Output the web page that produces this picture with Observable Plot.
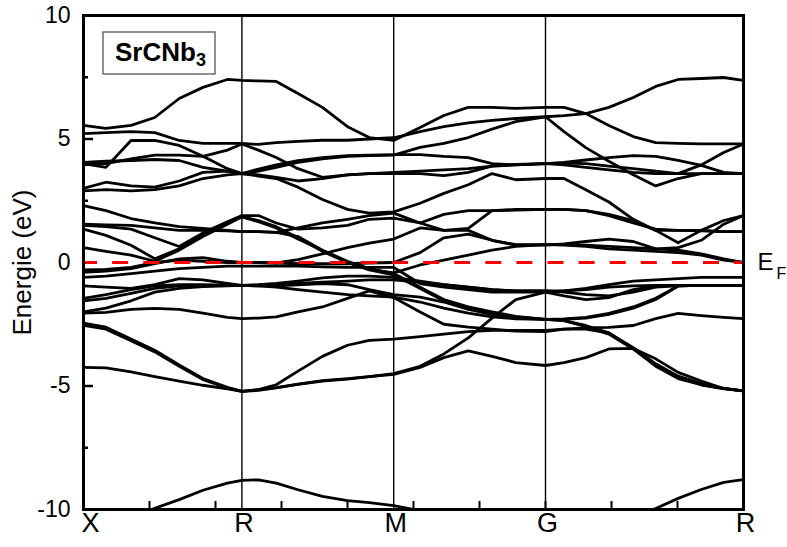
<!DOCTYPE html>
<html>
<head>
<meta charset="utf-8">
<script src="https://cdn.jsdelivr.net/npm/d3@7"></script>
<script src="https://cdn.jsdelivr.net/npm/@observablehq/plot@0.6"></script>
<style>
  body { margin: 0; background: #fff; }
  svg { display: block; }
</style>
</head>
<body>
<div id="chart"></div>
<script>
// k-path sampling (axis units 0..10): X -> R -> M -> G -> R
const kPath = [0,0.34,0.72,1.08,1.45,1.81,2.18,2.4, 2.65,2.92,3.25,3.62,4.0,4.33,4.7, 5.1,5.46,5.83,6.19,6.55,7.0, 7.28,7.61,7.96,8.33,8.67,9.01,9.36,9.70,10];

// high-symmetry points
const symLabels = ["X","R","M","G","R"];
const symPos = [0, 2.4, 4.7, 7.0, 10];
const symInner = [2.4, 4.7, 7.0];

// axis ticks
const yTickVals = [-10,-5,0,5,10];
const yMajorInner = [-5, 5];
const yMinorInner = [-7.5, -2.5, 2.5, 7.5];
const xMinorTicks = [1,2,3,4,5,6,7,8,9];

// texts
const yLabel = "Energie (eV)";
const efMain = "E", efSub = "F";
const legendMain = "SrCNb", legendSub = "3";

// band energies (eV) along kPath
const b01 = [-10.9,-10.6,-10.3,-9.95,-9.6,-9.22,-8.93,-8.82, -8.8,-8.93,-9.2,-9.47,-9.64,-9.72,-9.84, -10.05,-10.3,-10.5,-10.6,-10.65,-10.7, -10.65,-10.5,-10.4,-10.2,-9.96,-9.55,-9.19,-8.9,-8.79];
const b02 = [-4.25,-4.27,-4.43,-4.62,-4.8,-4.97,-5.12,-5.22, -5.15,-5.07,-4.92,-4.78,-4.7,-4.62,-4.53, -4.25,-3.85,-3.58,-3.8,-4.05,-4.17, -4.05,-3.85,-3.5,-3.48,-3.9,-4.45,-4.8,-5.1,-5.2];
const b03 = [-2.45,-2.62,-3.1,-3.55,-4.15,-4.7,-5.05,-5.22, -5.15,-4.95,-4.4,-3.8,-3.35,-3.15,-3.1, -3.0,-2.9,-2.8,-2.75,-2.75,-2.75, -2.7,-2.7,-2.85,-3.5,-4.2,-4.7,-4.95,-5.12,-5.2];
const b04 = [-2.55,-2.7,-3.17,-3.62,-4.2,-4.74,-5.08,-5.22, -5.18,-5.08,-4.93,-4.8,-4.72,-4.62,-4.5, -4.2,-3.7,-3.05,-2.25,-1.5,-1.2, -1.35,-1.5,-1.42,-1.1,-0.95,-0.93,-0.93,-0.93,-0.93];
const b05 = [-2.05,-2.02,-1.9,-1.86,-1.9,-2.05,-2.22,-2.27, -2.25,-2.2,-2.0,-1.8,-1.45,-1.15,-1.42, -2.0,-2.5,-2.62,-2.7,-2.78,-2.8, -2.7,-2.65,-2.63,-2.55,-2.27,-2.06,-2.15,-2.22,-2.27];
const b06 = [1.35,1.1,0.7,0.15,0.55,1.1,1.6,1.85, 1.7,1.45,1.0,0.45,0.0,-0.3,-0.5, -1.05,-1.55,-1.85,-2.05,-2.2,-2.3, -2.3,-2.25,-2.1,-1.85,-1.5,-0.95,-0.93,-0.93,-0.93];
const b07 = [0.6,0.45,0.3,0.05,0.5,1.05,1.55,1.85, 1.65,1.4,0.95,0.5,0.05,-0.25,-0.45, -1.0,-1.5,-1.8,-2.0,-2.18,-2.3, -2.28,-2.22,-2.06,-1.8,-1.45,-0.95,-0.93,-0.93,-0.93];
const b08 = [-0.4,-0.35,-0.25,-0.05,0.15,0.2,0.05,0.0, 0.0,-0.02,0.12,0.35,0.6,0.78,0.95, 1.4,1.3,1.3,0.9,0.7,0.7, 0.75,0.85,0.95,0.85,0.55,0.5,0.35,0.15,0.0];
const b09 = [-0.6,-0.55,-0.45,-0.35,-0.25,-0.2,-0.15,-0.15, -0.15,-0.15,-0.15,-0.18,-0.2,-0.2,-0.2, -0.85,-1.0,-1.1,-1.2,-1.2,-1.2, -1.15,-1.05,-0.9,-0.75,-0.7,-0.65,-0.6,-0.6,-0.6];
const b10 = [-0.95,-1.0,-1.05,-0.9,-0.65,-0.7,-0.85,-0.93, -0.9,-0.85,-0.75,-0.62,-0.55,-0.55,-0.6, -0.75,-0.9,-1.0,-1.1,-1.15,-1.15, -1.2,-1.3,-1.35,-1.2,-1.0,-0.95,-0.93,-0.93,-0.93];
const b11 = [-1.45,-1.3,-1.1,-0.95,-0.9,-0.9,-0.92,-0.93, -0.95,-0.95,-0.9,-0.85,-0.9,-1.1,-1.3, -1.4,-1.6,-1.9,-2.1,-2.25,-2.3, -2.35,-2.6,-2.9,-3.5,-4.15,-4.65,-4.95,-5.1,-5.2];
const b12 = [-1.55,-1.45,-1.25,-1.05,-0.95,-0.95,-0.93,-0.93, -0.92,-0.9,-0.85,-0.8,-0.75,-0.7,-0.7, -0.8,-0.9,-1.0,-1.1,-1.15,-1.15, -1.15,-1.1,-1.0,-0.95,-0.93,-0.93,-0.93,-0.93,-0.93];
const b13 = [-2.0,-1.85,-1.55,-1.2,-1.05,-0.98,-0.95,-0.93, -0.95,-1.0,-1.1,-1.2,-1.3,-1.35,-1.4, -1.6,-1.85,-2.05,-2.2,-2.28,-2.3, -2.35,-2.55,-2.85,-3.45,-4.1,-4.6,-4.9,-5.1,-5.2];
const b14 = [-0.3,-0.28,-0.2,0.0,0.1,0.05,0.0,0.0, 0.0,-0.02,-0.05,-0.05,-0.05,-0.02,0.0, 0.4,1.0,1.15,0.9,0.72,0.72, 0.7,0.65,0.55,0.5,0.45,0.4,0.3,0.1,0.0];
const b15 = [2.3,2.1,1.78,1.6,1.45,1.38,1.3,1.25, 1.25,1.22,1.4,1.6,1.75,1.9,2.0, 1.6,1.95,2.1,2.1,2.12,2.15, 2.15,2.1,1.9,1.6,1.35,1.3,1.3,1.25,1.25];
const b16 = [1.55,1.52,1.5,1.4,1.3,1.3,1.28,1.25, 1.25,1.22,1.05,0.5,0.0,-0.28,-0.42, -0.1,0.1,0.3,0.5,0.65,0.72, 0.72,0.7,0.65,0.6,0.55,0.6,0.9,1.55,1.9];
const b17 = [1.5,1.45,1.35,1.0,0.65,1.2,1.65,1.9, 1.9,1.6,1.35,1.4,1.5,1.75,1.8, 1.6,1.3,1.38,2.1,2.15,2.15, 2.15,2.1,1.95,1.7,1.3,0.8,1.3,1.7,1.9];
const b18 = [5.55,5.43,5.55,5.87,6.64,7.09,7.41,7.37, 7.35,7.33,6.84,6.28,5.5,5.06,4.94, 5.47,5.95,6.28,6.28,6.24,6.28, 6.28,6.03,5.55,5.1,4.85,4.82,4.8,4.8,4.8];
const b19 = [5.22,5.26,5.3,5.26,4.94,4.82,4.82,4.82, 4.78,4.85,4.9,4.95,4.95,5.0,5.05, 5.3,5.5,5.65,5.75,5.83,5.9, 5.95,6.03,6.28,6.68,7.13,7.41,7.45,7.49,7.37];
const b20 = [4.0,3.85,4.94,4.94,4.74,4.3,3.8,3.6, 3.5,3.4,3.05,2.55,2.15,2.0,2.05, 2.4,2.8,3.15,3.6,3.35,3.4, 3.4,2.95,2.45,1.75,1.3,1.3,1.28,1.25,1.25];
const b21 = [3.95,4.0,4.2,4.35,4.35,4.3,4.55,4.8, 4.55,4.25,3.8,3.45,3.55,3.6,3.6, 3.6,3.52,3.65,3.9,3.97,4.0, 4.02,4.0,3.9,3.8,3.7,3.6,3.6,3.6,3.6];
const b22 = [4.05,4.1,4.13,4.17,4.13,3.85,3.7,3.6, 3.78,3.95,4.12,4.25,4.33,4.35,4.37, 4.37,4.3,4.25,4.0,3.95,4.0, 4.05,4.15,4.25,4.33,4.3,4.13,3.93,3.65,3.6];
const b23 = [3.0,3.25,3.1,3.05,3.3,3.65,3.7,3.6, 3.7,3.85,4.05,4.2,4.3,4.33,4.35, 4.66,4.82,5.06,5.4,5.7,5.9, 5.3,4.65,4.1,3.55,3.1,3.4,3.6,3.6,3.6];
const b24 = [2.9,2.95,2.9,2.95,3.1,3.4,3.55,3.6, 3.55,3.45,3.3,3.4,3.55,3.6,3.65, 3.7,3.75,3.8,3.9,3.95,4.0, 3.95,3.85,3.75,3.65,3.6,3.6,3.95,4.45,4.8];

const bandList = [b01,b02,b03,b04,b05,b06,b07,b08,b09,b10,b11,b12,b13,b14,b15,b16,b17,b18,b19,b20,b21,b22,b23,b24];
const rows = bandList.flatMap((band, b) => band.map((e, i) => ({k: kPath[i], e, band: b})));

const W = 787, H = 547;
const mL = 83, mR = 44, mT = 15, mB = 38;
const plotW = W - mL - mR, plotH = H - mT - mB;
const font = "'Liberation Sans', Arial, Helvetica, sans-serif";

const chart = Plot.plot({
  width: W,
  height: H,
  marginLeft: mL,
  marginRight: mR,
  marginTop: mT,
  marginBottom: mB,
  style: {fontFamily: font, background: "#fff", color: "#000"},
  x: {domain: [0, 10], axis: null},
  y: {domain: [-10, 10], axis: null},
  marks: [
    // high-symmetry vertical lines
    Plot.ruleX(symInner, {stroke: "#000", strokeWidth: 1.4}),
    // inward ticks
    Plot.ruleY(yMajorInner, {stroke: "#000", strokeWidth: 2.5, insetRight: plotW - 10}),
    Plot.ruleY(yMinorInner, {stroke: "#000", strokeWidth: 2.5, insetRight: plotW - 5}),
    Plot.ruleX(xMinorTicks, {stroke: "#000", strokeWidth: 2, insetTop: plotH - 8}),
    // bands
    Plot.line(rows, {x: "k", y: "e", z: "band", stroke: "#000", strokeWidth: 2.8, strokeLinejoin: "round", clip: true}),
    // Fermi level
    Plot.ruleY([0], {stroke: "#ff0000", strokeWidth: 3, strokeDasharray: "16,15.1", strokeDashoffset: 2}),
    // frame
    Plot.frame({stroke: "#000", strokeWidth: 3}),
    // y tick labels
    Plot.text(yTickVals, {y: d => d, frameAnchor: "left", dx: -13, textAnchor: "end", fontSize: 23, text: d => String(d)}),
    // x labels (high-symmetry points)
    Plot.text(symPos.slice(0, 1), {x: d => d, frameAnchor: "bottom", dy: 22.5, dx: 7, textAnchor: "middle", fontSize: 27, text: (d, i) => symLabels[i]}),
    Plot.text(symPos.slice(1), {x: d => d, frameAnchor: "bottom", dy: 22.5, dx: 2, textAnchor: "middle", fontSize: 27, text: (d, i) => symLabels[i + 1]}),
    // y axis label
    Plot.text([yLabel], {frameAnchor: "left", dx: -61, rotate: -90, textAnchor: "middle", fontSize: 26, text: d => d}),
    // E_F label
    Plot.text([0], {y: d => d, frameAnchor: "right", dx: 14, textAnchor: "start", fontSize: 24, text: () => efMain}),
    Plot.text([0], {y: d => d, frameAnchor: "right", dx: 33, dy: 11, textAnchor: "start", fontSize: 16, text: () => efSub})
  ]
});

// legend box with formula
const svg = d3.select(chart);
const g = svg.append("g").attr("text-anchor", "start");
g.append("rect")
  .attr("x", 103).attr("y", 32).attr("width", 112).attr("height", 42)
  .attr("fill", "#fff").attr("stroke", "#555").attr("stroke-width", 1.3);
const t = g.append("text")
  .attr("x", 115).attr("y", 61)
  .attr("text-anchor", "start")
  .attr("font-family", font).attr("font-weight", "bold").attr("font-size", 26).attr("fill", "#000");
t.append("tspan").text(legendMain);
t.append("tspan").attr("font-size", 18).attr("dy", 5).text(legendSub);

document.getElementById("chart").appendChild(chart);
</script>
</body>
</html>
